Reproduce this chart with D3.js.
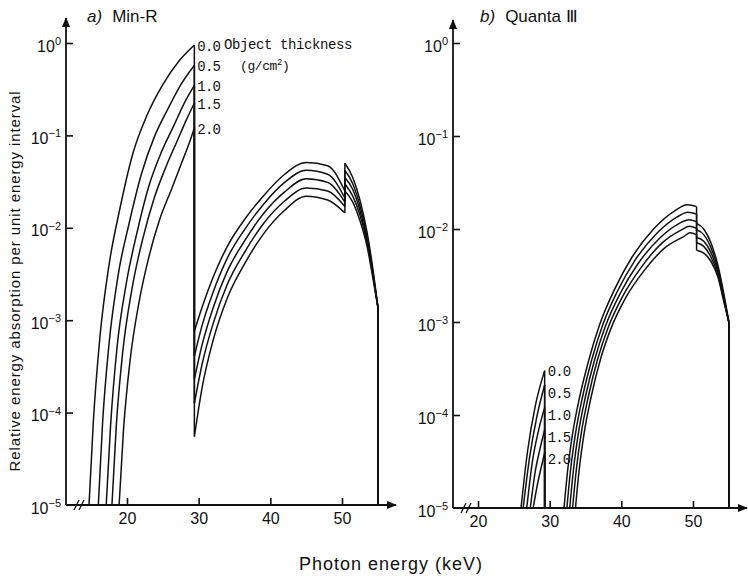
<!DOCTYPE html>
<html>
<head>
<meta charset="utf-8">
<script src="https://cdn.jsdelivr.net/npm/d3@7"></script>
<style>
  body { margin:0; background:#fff; }
  svg text { fill:#111; }
  .tick line { stroke:#111; stroke-width:1.6; }
  .tick text { font-family:"Liberation Sans", Arial, sans-serif; font-size:16px; }
</style>
</head>
<body>
<div id="canvas"></div>
<script>
// thickness labels (g/cm2)
var thickness = ["0.0","0.5","1.0","1.5","2.0"];
var xTicks = [20,30,40,50];
var yTicks = [1e-5,1e-4,1e-3,1e-2,1e-1,1];

// a) Min-R : below the 29 keV edge
var minrLowE = [
  [14.7,15.3,16.2,17.5,19.0,20.8,22.8,25.0,27.2,29.4],
  [16.0,16.6,17.5,18.8,20.3,22.0,23.9,25.8,27.6,29.4],
  [17.1,17.7,18.6,19.9,21.4,23.0,24.8,26.5,28.0,29.4],
  [17.9,18.5,19.4,20.7,22.2,23.8,25.5,27.0,28.3,29.4],
  [18.9,19.5,20.4,21.7,23.1,24.6,26.2,27.6,28.6,29.4]
];
var minrLowV = [
  [1e-5,7.9e-5,6.3e-4,4.0e-3,1.6e-2,6.3e-2,0.166,0.355,0.63,0.95],
  [1e-5,7.9e-5,5.6e-4,3.2e-3,1.12e-2,3.8e-2,0.1,0.2,0.363,0.575],
  [1e-5,7.1e-5,5.0e-4,2.5e-3,8.9e-3,2.75e-2,6.6e-2,0.126,0.224,0.347],
  [1e-5,7.1e-5,4.5e-4,2.2e-3,7.6e-3,2.1e-2,4.7e-2,8.7e-2,0.148,0.224],
  [1e-5,6.3e-5,3.5e-4,1.6e-3,5.0e-3,1.26e-2,2.6e-2,5.0e-2,7.9e-2,0.12]
];
// a) Min-R : between 29 keV and 50 keV
var minrMidE = [29.4,30.5,32,34,36.5,39,42,45,48,50.4];
var minrMidV = [
  [7.6e-4,1.4e-3,2.9e-3,6.3e-3,1.26e-2,2.2e-2,3.8e-2,5.1e-2,4.7e-2,2.5e-2],
  [4.1e-4,8.9e-4,2.0e-3,4.7e-3,9.8e-3,1.78e-2,3.1e-2,4.2e-2,3.8e-2,2.1e-2],
  [2.3e-4,5.5e-4,1.35e-3,3.4e-3,7.4e-3,1.41e-2,2.45e-2,3.4e-2,3.1e-2,1.9e-2],
  [1.26e-4,3.4e-4,9.1e-4,2.45e-3,5.6e-3,1.1e-2,1.95e-2,2.7e-2,2.5e-2,1.7e-2],
  [5.5e-5,1.9e-4,6.0e-4,1.74e-3,4.2e-3,8.5e-3,1.55e-2,2.2e-2,2.0e-2,1.45e-2]
];
// a) Min-R : above the 50 keV edge
var minrHighE = [50.4,51.5,52.5,53.5,54.4,55];
var minrHighV = [
  [5.0e-2,3.5e-2,2.0e-2,8.9e-3,3.2e-3,1.4e-3],
  [4.2e-2,3.0e-2,1.74e-2,8.1e-3,3.0e-3,1.4e-3],
  [3.5e-2,2.6e-2,1.55e-2,7.4e-3,2.9e-3,1.4e-3],
  [3.0e-2,2.2e-2,1.38e-2,6.9e-3,2.75e-3,1.4e-3],
  [2.5e-2,1.9e-2,1.2e-2,6.3e-3,2.6e-3,1.4e-3]
];

// b) Quanta III : below 29 keV
var quantaLowE = [
  [26.0,26.9,28.0,29.3],
  [26.3,27.2,28.2,29.3],
  [26.8,27.6,28.5,29.3],
  [27.3,28.0,28.7,29.3],
  [27.7,28.3,28.8,29.3]
];
var quantaLowV = [
  [1e-5,4.0e-5,1.26e-4,3.0e-4],
  [1e-5,3.5e-5,9.5e-5,2.1e-4],
  [1e-5,3.2e-5,7.1e-5,1.2e-4],
  [1e-5,2.5e-5,4.5e-5,6.9e-5],
  [1e-5,1.8e-5,2.7e-5,3.9e-5]
];
// b) Quanta III : 32 - 50 keV
var quantaMidE = [
  [32.0,32.5,33.2,34.2,35.5,37.0,39.0,41.5,44.5,47.5,49.2,50.5],
  [32.4,32.9,33.6,34.6,35.9,37.4,39.4,41.9,44.9,47.8,49.3,50.5],
  [32.8,33.3,34.0,35.0,36.3,37.8,39.8,42.3,45.3,48.1,49.4,50.5],
  [33.2,33.7,34.4,35.4,36.7,38.2,40.2,42.7,45.7,48.4,49.5,50.5],
  [33.6,34.1,34.8,35.8,37.1,38.6,40.6,43.1,46.1,48.7,49.6,50.5]
];
var quantaMidV = [
  [1e-5,2.5e-5,6.3e-5,1.58e-4,4.0e-4,9.5e-4,2.2e-3,5.0e-3,1.0e-2,1.58e-2,1.82e-2,1.74e-2],
  [1e-5,2.5e-5,6.3e-5,1.58e-4,4.0e-4,9.3e-4,2.1e-3,4.6e-3,8.9e-3,1.35e-2,1.51e-2,1.45e-2],
  [1e-5,2.5e-5,6.3e-5,1.58e-4,4.0e-4,9.1e-4,2.0e-3,4.2e-3,7.9e-3,1.15e-2,1.26e-2,1.2e-2],
  [1e-5,2.5e-5,6.3e-5,1.58e-4,4.0e-4,8.9e-4,1.9e-3,3.8e-3,7.1e-3,9.8e-3,1.07e-2,1.02e-2],
  [1e-5,2.5e-5,6.3e-5,1.58e-4,4.0e-4,8.7e-4,1.82e-3,3.5e-3,6.3e-3,8.3e-3,9.1e-3,8.7e-3]
];
// b) Quanta III : above 50 keV
var quantaHighE = [50.5,51.5,52.5,53.5,54.3,55];
var quantaHighV = [
  [1.15e-2,1.0e-2,7.1e-3,4.0e-3,2.0e-3,1.0e-3],
  [9.8e-3,8.7e-3,6.3e-3,3.7e-3,1.9e-3,1.0e-3],
  [8.1e-3,7.4e-3,5.6e-3,3.4e-3,1.8e-3,1.0e-3],
  [7.1e-3,6.5e-3,5.0e-3,3.2e-3,1.74e-3,1.0e-3],
  [5.9e-3,5.5e-3,4.5e-3,3.0e-3,1.66e-3,1.0e-3]
];

var W = 748, H = 578;
var mono = '"Liberation Mono", "DejaVu Sans Mono", monospace';
var svg = d3.select('#canvas').append('svg')
    .attr('width', W).attr('height', H)
    .style('font-family', '"Liberation Sans", Arial, sans-serif');

svg.append('defs').append('marker')
    .attr('id','arrow').attr('viewBox','0 0 10 10')
    .attr('refX',9).attr('refY',5)
    .attr('markerWidth',14).attr('markerHeight',10)
    .attr('markerUnits','userSpaceOnUse')
    .attr('orient','auto')
    .append('path').attr('d','M0,1 L10,5 L0,9 Z').attr('fill','#111');

// panel geometry (axis corner, x of 20 and 50 keV, y of 1e-5 and 1)
var panels = [
  {id:'a', title:'a)', name:'Min-R', ax:66, tx:87, x20:127, x50:342, yb:505, yt:43, xEnd:396, yEnd:18,
   labY:null,
   low:[minrLowE, minrLowV], mid:[minrMidE, minrMidV], high:[minrHighE, minrHighV]},
  {id:'b', title:'b)', name:'Quanta \u2162', ax:453, tx:480, x20:478, x50:693, yb:508, yt:43, xEnd:747, yEnd:20,
   labY:370,
   low:[quantaLowE, quantaLowV], mid:[quantaMidE, quantaMidV], high:[quantaHighE, quantaHighV]}
];

function pts(E, V, i) {
  var e = Array.isArray(E[0]) ? E[i] : E;
  return d3.zip(e, V[i]);
}

panels.forEach(function(p){
  var x = d3.scaleLinear().domain([20,50]).range([p.x20, p.x50]);
  var y = d3.scaleLog().domain([1e-5,1]).range([p.yb, p.yt]);
  var g = svg.append('g').attr('class','panel-' + p.id);

  // axes lines with arrows
  g.append('line').attr('x1',p.ax).attr('y1',p.yb).attr('x2',p.ax).attr('y2',p.yEnd)
    .attr('stroke','#111').attr('stroke-width',1.8).attr('marker-end','url(#arrow)');
  g.append('line').attr('x1',p.ax).attr('y1',p.yb).attr('x2',p.xEnd).attr('y2',p.yb)
    .attr('stroke','#111').attr('stroke-width',1.8).attr('marker-end','url(#arrow)');

  // axis break
  [0,5].forEach(function(dx){
    g.append('line').attr('x1',p.ax+8+dx).attr('y1',p.yb+5).attr('x2',p.ax+13+dx).attr('y2',p.yb-5)
      .attr('stroke','#111').attr('stroke-width',1.3);
  });

  var axisY = d3.axisLeft(y).tickValues(yTicks).tickSizeInner(-7).tickSizeOuter(0).tickPadding(4)
      .tickFormat(function(){ return ''; });
  var yNode = g.append('g').attr('transform','translate(' + p.ax + ',0)').call(axisY);
  yNode.select('.domain').remove();
  yNode.selectAll('.tick').each(function(d){
    var ex = Math.round(Math.log10(d));
    var t = d3.select(this).select('text').text('10').attr('x',-5).attr('dy','0.5em');
    t.append('tspan').attr('dy','-0.6em').attr('font-size','11px')
      .text(ex === 0 ? '0' : '\u2212' + (-ex));
  });
  yNode.selectAll('.tick').filter(function(d){ return d === 1e-5; }).select('line').remove();

  var axisX = d3.axisBottom(x).tickValues(xTicks).tickSizeInner(-7).tickSizeOuter(0).tickPadding(8);
  var xNode = g.append('g').attr('transform','translate(0,' + p.yb + ')').call(axisX);
  xNode.select('.domain').remove();

  // title
  var tt = g.append('text').attr('x', p.tx).attr('y', 22).attr('font-size','17px');
  tt.append('tspan').attr('font-style','italic').text(p.title);
  tt.append('tspan').attr('dx', 10).text(p.name);

  var line = d3.line().x(function(d){ return x(d[0]); }).y(function(d){ return y(d[1]); })
      .curve(d3.curveMonotoneX);

  thickness.forEach(function(t, i){
    var lo = pts(p.low[0], p.low[1], i),
        mi = pts(p.mid[0], p.mid[1], i),
        hi = pts(p.high[0], p.high[1], i);
    var cg = g.append('g').attr('fill','none').attr('stroke','#111').attr('stroke-width',1.5);
    [lo, mi, hi].forEach(function(seg){ cg.append('path').attr('d', line(seg)); });
    var lastLo = lo[lo.length-1], lastMi = mi[mi.length-1], lastHi = hi[hi.length-1];
    var links = p.id === 'a'
      ? [[lastLo, mi[0]], [lastMi, hi[0]], [lastHi, [lastHi[0], 1e-5]]]
      : [[lastLo, [lastLo[0], 1e-5]], [lastMi, hi[0]], [lastHi, [lastHi[0], 1e-5]]];
    links.forEach(function(l){
      cg.append('line').attr('x1', x(l[0][0])).attr('y1', y(l[0][1]))
        .attr('x2', x(l[1][0])).attr('y2', y(l[1][1]));
    });
    // thickness label next to the end of the low-energy branch
    var ly = p.labY === null ? y(lastLo[1]) : p.labY + i * 22;
    g.append('text').attr('x', x(lastLo[0]) + 3).attr('y', ly + 6)
      .attr('font-family', mono).attr('font-size','14px').attr('letter-spacing','-0.8px')
      .text(t);
  });
});

// legend title
svg.append('text').attr('x',224).attr('y',49).attr('font-family', mono)
  .attr('font-size','14px').attr('letter-spacing','-0.4px').text('Object thickness');
var gcm = svg.append('text').attr('x',240).attr('y',70).attr('font-family', mono)
  .attr('font-size','13px').attr('letter-spacing','-0.4px').text('(g/cm');
gcm.append('tspan').attr('dy','-5').attr('font-size','9px').text('2');
gcm.append('tspan').attr('dy','5').text(')');

// axis titles
svg.append('text').attr('transform','translate(20,281) rotate(-90)').attr('text-anchor','middle')
  .attr('font-size','15px').attr('letter-spacing','0.9px')
  .text('Relative energy absorption per unit energy interval');
svg.append('text').attr('x',391).attr('y',570).attr('text-anchor','middle')
  .attr('font-size','18px').attr('letter-spacing','1px').text('Photon energy  (keV)');
</script>
</body>
</html>
